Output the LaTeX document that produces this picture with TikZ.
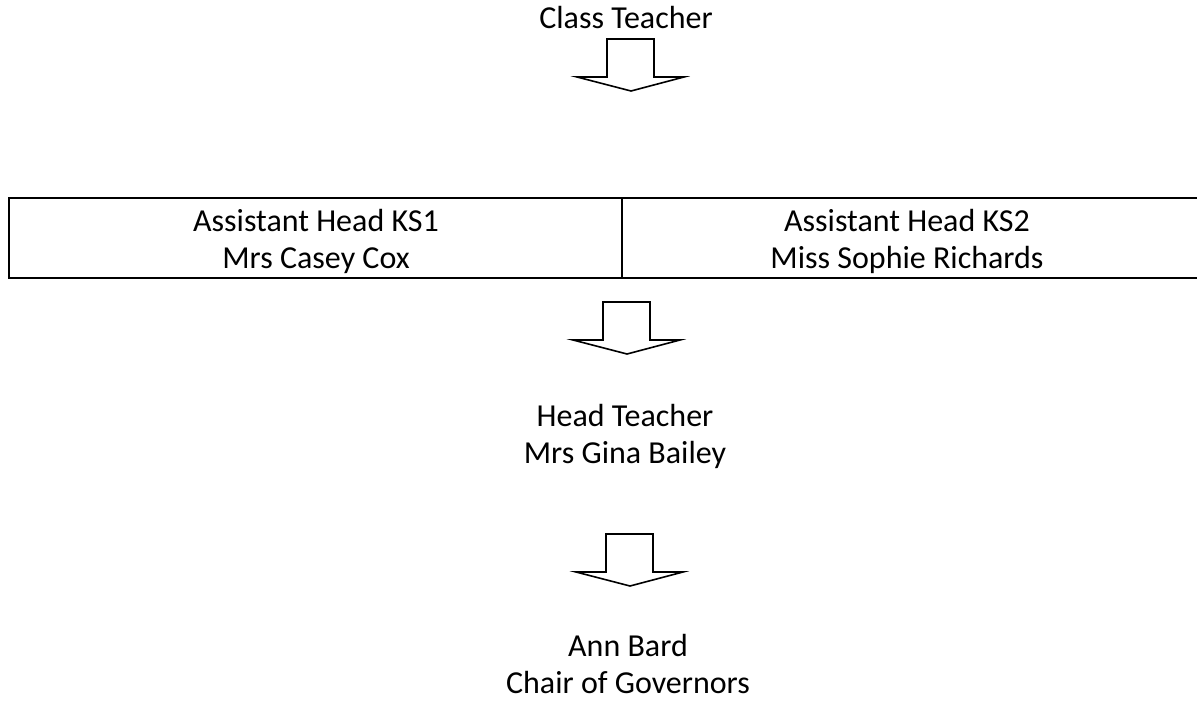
\documentclass[tikz,border=0pt]{standalone}
\usepackage{fontspec}
\setmainfont{Carlito}

\begin{document}
\begin{tikzpicture}[x=0.5pt,y=-0.5pt,
	lbl/.style={align=center,inner sep=0pt,font=\fontsize{16}{18.5}\selectfont},
	blockarrow/.style={draw,fill=white,line width=0.8pt,line join=miter}]
		\useasboundingbox (0,0) rectangle (1197,701);
		% names
		\node[lbl] (class) at (626,18) {Class Teacher};
		\node[lbl] (ks1) at (316,241) {Assistant Head KS1\\Mrs Casey Cox};
		\node[lbl] (ks2) at (907,241) {Assistant Head KS2\\Miss Sophie Richards};
		\node[lbl] (head) at (625,436) {Head Teacher\\Mrs Gina Bailey};
		\node[lbl] (chair) at (628,664) {Ann Bard\\Chair of Governors};
		% table of the two assistant heads
		\draw[line width=1pt] (1197,198) -- (8.5,198) -- (8.5,277.5) -- (1197,277.5);
		\draw[line width=1pt] (622,198) -- (622,277.5);
		% block arrows
		\foreach \x/\y in {607/39, 603/302, 606/534}
			\draw[blockarrow] (\x,\y) -- ++(47,0) -- ++(0,38) -- ++(30,0) -- ++(-53,14) -- ++(-54,-14) -- ++(30,0) -- cycle;
	\end{tikzpicture}
\end{document}
